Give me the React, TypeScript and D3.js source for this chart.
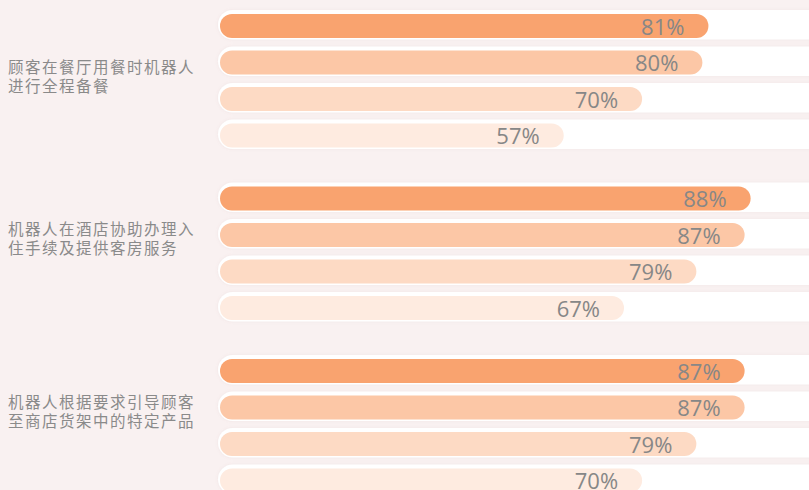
import React from "react";
import * as d3 from "d3";

const categories = [
  ["顾客在餐厅用餐时机器人", "进行全程备餐"],
  ["机器人在酒店协助办理入", "住手续及提供客房服务"],
  ["机器人根据要求引导顾客", "至商店货架中的特定产品"],
];
const series1 = [81, 88, 87];
const series2 = [80, 87, 87];
const series3 = [70, 79, 79];
const series4 = [57, 67, 70];
const allSeries = [series1, series2, series3, series4];
const seriesColors = ["#f9a36f", "#fcc7a6", "#fddac4", "#feebe0"];

const W = 809;
const H = 490;
const labelNudge = [10, 0, 0];

export default function App() {
  const x = d3.scaleLinear().domain([0, 100]).range([220, 823]);
  const groupY = d3.scaleLinear().domain([0, 2]).range([14, 359]);
  const rowY = d3.scaleLinear().domain([0, 3]).range([0, 109.5]);
  const barH = 24;

  return (
    <svg
      width={W}
      height={H}
      style={{ position: "absolute", left: 0, top: 0, display: "block" }}
    >
      <defs>
        <filter id="sh" x="-5%" y="-50%" width="110%" height="200%">
          <feDropShadow dx="0" dy="0" stdDeviation="1.5" floodColor="#b08080" floodOpacity="0.12" />
        </filter>
      </defs>
      <rect x={0} y={0} width={W} height={H} fill="#f9f1f1" />
      {categories.map((lines, g) => {
        const top = groupY(g);
        return (
          <g key={g}>
            {lines.map((ln, i) => (
              <text
                key={i}
                x={8}
                y={top + 41.5 + labelNudge[g] + i * 19}
                dominantBaseline="central"
                fontFamily="'Noto Sans CJK SC', sans-serif"
                fontSize={15.5}
                letterSpacing={1.5}
                fill="#8a8a8a"
              >
                {ln}
              </text>
            ))}
            {allSeries.map((s, r) => {
              const y = top + rowY(r);
              const v = s[g];
              const trackH = barH + 5.5;
              return (
                <g key={r}>
                  <rect
                    x={218}
                    y={y - 4}
                    width={x(100) - 218 + 20}
                    height={trackH}
                    rx={trackH / 2}
                    fill="#ffffff"
                    filter="url(#sh)"
                  />
                  <rect
                    x={x(0)}
                    y={y}
                    width={x(v) - x(0)}
                    height={barH}
                    rx={barH / 2}
                    fill={seriesColors[r]}
                  />
                  <text
                    x={x(v) - 24}
                    y={y + barH / 2 - 0.5}
                    textAnchor="end"
                    dominantBaseline="central"
                    fontFamily="'Open Sans', sans-serif"
                    fontSize={22}
                    fill="#878787"
                  >
                    {v}%
                  </text>
                </g>
              );
            })}
          </g>
        );
      })}
    </svg>
  );
}
